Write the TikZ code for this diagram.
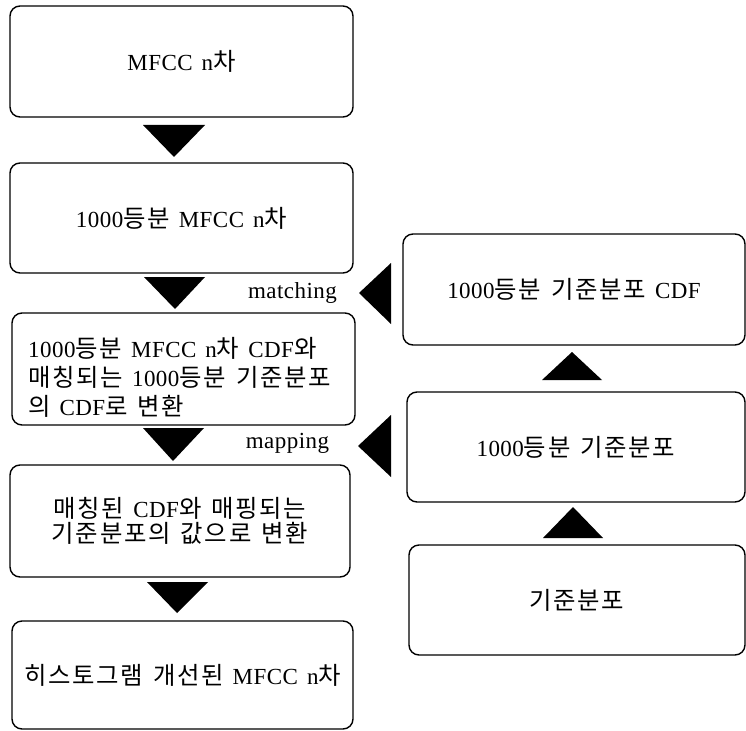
\documentclass[tikz,border=0pt]{standalone}
\usepackage{fontspec}
\setmainfont{Liberation Serif}[LetterSpace=2, WordSpace=1.45]
\newfontfamily\krfont{Noto Sans CJK KR}[Scale=1.06, LetterSpace=7, WordSpace=1.4]
\newcommand{\hg}[1]{{\krfont #1}}
\tikzset{
  box/.style={draw=black, line width=1.4pt, rounded corners=10pt, inner sep=0pt},
  lbl/.style={inner sep=0pt, font=\fontsize{23}{26}\selectfont},
  tri/.style={fill=black}
}
\begin{document}
\begin{tikzpicture}[x=1pt, y=-1pt, font=\fontsize{23}{26}\selectfont]
\useasboundingbox (0,0) rectangle (746,730);
% left column
\node[box, minimum width=343pt, minimum height=111pt] (b1) at (181.5,61.5) {MFCC n\hg{차}};
\node[box, minimum width=343pt, minimum height=110pt] (b2) at (181.5,218) {1000\hg{등분} MFCC n\hg{차}};
\node[box, minimum width=343pt, minimum height=112pt] (b3) at (183.5,369) {};
\node[lbl, anchor=west, align=left, font=\fontsize{23}{29}\selectfont] (t3) at (28,377)
  {1000\hg{등분} MFCC n\hg{차} CDF\hg{와}\\ \hg{매칭되는} 1000\hg{등분 기준분포}\\ \hg{의} CDF\hg{로 변환}};
\node[box, minimum width=340pt, minimum height=112pt, align=center, font=\fontsize{23}{25.5}\selectfont] (b4) at (180,521)
  {\hg{매칭된} CDF\hg{와 매핑되는}\\ \hg{기준분포의 값으로 변환}};
\node[box, minimum width=341pt, minimum height=108pt] (b5) at (182.5,675) {\hg{히스토그램 개선된} MFCC n\hg{차}};
% right column
\node[box, minimum width=342pt, minimum height=111pt] (r1) at (574,289.5) {1000\hg{등분 기준분포} CDF};
\node[box, minimum width=338pt, minimum height=110pt] (r2) at (576,447) {1000\hg{등분 기준분포}};
\node[box, minimum width=336pt, minimum height=110pt] (r3) at (577,600) {\hg{기준분포}};
% labels
\node[lbl, anchor=base] (lm) at (292.5,298) {matching};
\node[lbl, anchor=base] (lp) at (287.5,448) {mapping};
% down arrows
\fill[tri] (143,125) -- (205,125) -- (174,157) -- cycle;
\fill[tri] (144,277) -- (205,277) -- (175,309) -- cycle;
\fill[tri] (143,428) -- (204,428) -- (173,461) -- cycle;
\fill[tri] (147,582) -- (208,582) -- (177,613) -- cycle;
% left arrows
\fill[tri] (391,263) -- (391,324) -- (359,293) -- cycle;
\fill[tri] (391,415) -- (391,477) -- (358,446) -- cycle;
% up arrows
\fill[tri] (542,380) -- (602,380) -- (572,352) -- cycle;
\fill[tri] (543,538) -- (603,538) -- (573,507) -- cycle;
\end{tikzpicture}
\end{document}
